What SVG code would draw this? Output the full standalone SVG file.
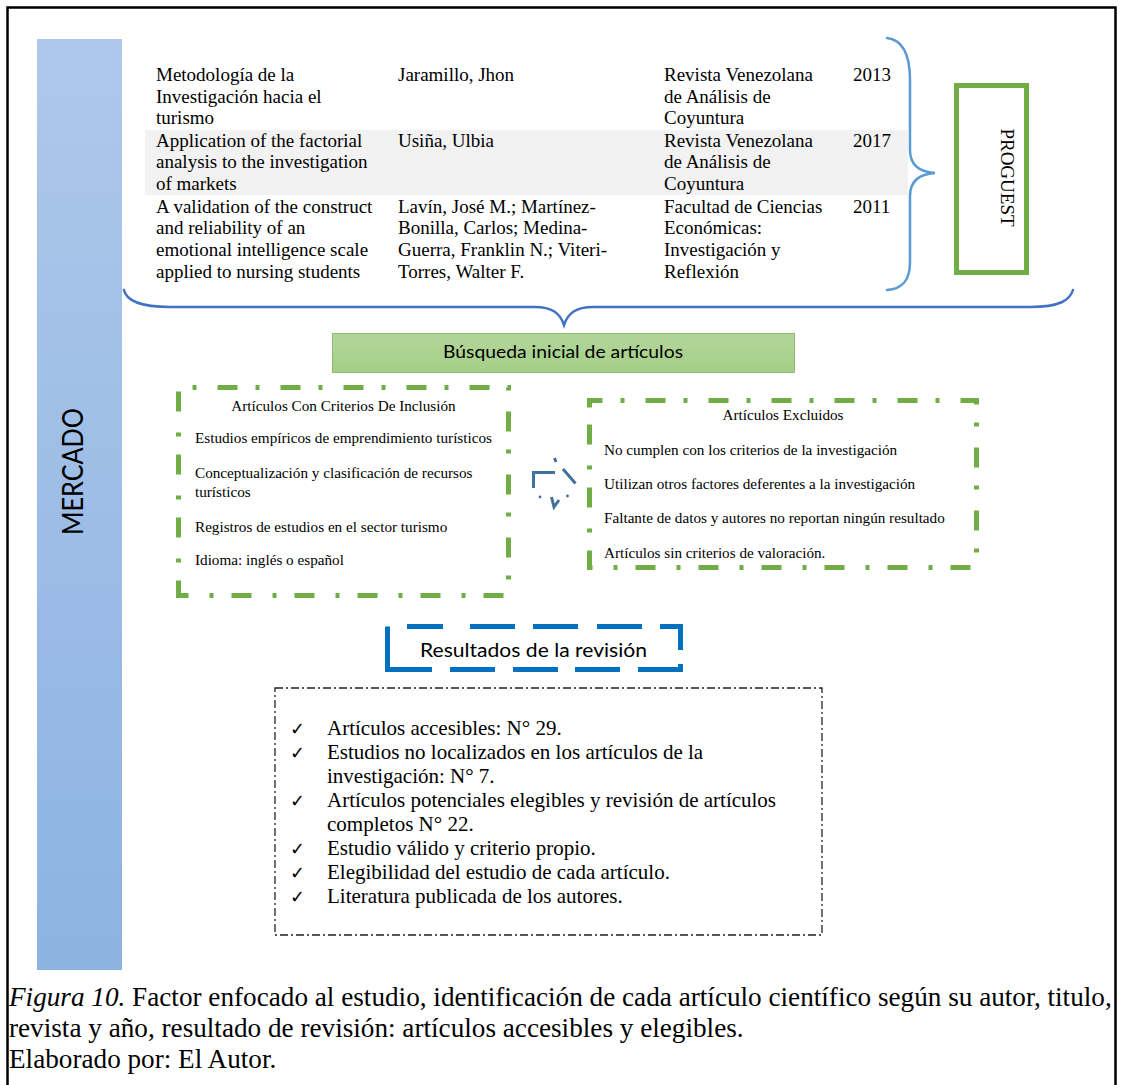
<svg xmlns="http://www.w3.org/2000/svg" width="1122" height="1085" viewBox="0 0 1122 1085">
<defs>
<linearGradient id="gBar" x1="0" y1="0" x2="0" y2="1"><stop offset="0" stop-color="#adc8ea"/><stop offset="1" stop-color="#8db3e2"/></linearGradient>
<linearGradient id="gGreen" x1="0" y1="0" x2="0" y2="1"><stop offset="0" stop-color="#b3d699"/><stop offset="1" stop-color="#a5ce89"/></linearGradient>
<style>
.serif{font-family:"Liberation Serif","Times New Roman",serif;fill:#000}
.sans{font-family:Lato,"Open Sans",sans-serif;fill:#000}
.tab{font-size:19px}
.crit{font-size:15.2px}
.chk{font-size:21px}
.mark{font-family:"DejaVu Sans",sans-serif;font-size:18px;fill:#000}
.cap{font-size:27.2px}
.gdash{fill:none;stroke:#70ad47;stroke-width:5;stroke-dasharray:20 18 4 21}
.blue{fill:none;stroke:#0070c0;stroke-width:5}
.brace{fill:none;stroke-width:2.5;stroke-linecap:round}
.ico{fill:none;stroke:#41719c;stroke-width:3}
</style>
</defs>
<rect width="1122" height="1085" fill="#fff"/>
<rect x="7.5" y="7.5" width="1108" height="1095" fill="none" stroke="#000" stroke-width="2.5"/>

<g id="mercado">
<rect x="37" y="39" width="85" height="931" fill="url(#gBar)"/>
<text class="sans" font-size="28" transform="translate(83,471.5) rotate(-90)" text-anchor="middle" textLength="127" lengthAdjust="spacingAndGlyphs">MERCADO</text>
</g>

<g id="tabla">
<rect x="145" y="130" width="763" height="65" fill="#f2f2f2"/>
<g class="serif tab">
<text x="156" y="81">Metodología de la</text>
<text x="156" y="103">Investigación hacia el</text>
<text x="156" y="124">turismo</text>
<text x="156" y="147">Application of the factorial</text>
<text x="156" y="168">analysis to the investigation</text>
<text x="156" y="190">of markets</text>
<text x="156" y="213">A validation of the construct</text>
<text x="156" y="234">and reliability of an</text>
<text x="156" y="256">emotional intelligence scale</text>
<text x="156" y="278">applied to nursing students</text>
<text x="398" y="81">Jaramillo, Jhon</text>
<text x="398" y="147">Usiña, Ulbia</text>
<text x="398" y="213">Lavín, José M.; Martínez-</text>
<text x="398" y="234">Bonilla, Carlos; Medina-</text>
<text x="398" y="256">Guerra, Franklin N.; Viteri-</text>
<text x="398" y="278">Torres, Walter F.</text>
<text x="664" y="81">Revista Venezolana</text>
<text x="664" y="103">de Análisis de</text>
<text x="664" y="124">Coyuntura</text>
<text x="664" y="147">Revista Venezolana</text>
<text x="664" y="168">de Análisis de</text>
<text x="664" y="190">Coyuntura</text>
<text x="664" y="213">Facultad de Ciencias</text>
<text x="664" y="234">Económicas:</text>
<text x="664" y="256">Investigación y</text>
<text x="664" y="278">Reflexión</text>
<text x="853" y="81">2013</text>
<text x="853" y="147">2017</text>
<text x="853" y="213">2011</text>
</g>
</g>

<g id="proguest">
<rect x="956.5" y="85.5" width="70" height="187" fill="none" stroke="#70ad47" stroke-width="5"/>
<text class="serif" font-size="19" transform="translate(1001,177.5) rotate(90)" text-anchor="middle">PROGUEST</text>
</g>

<g id="busqueda">
<rect x="332.5" y="333.5" width="462" height="39" fill="url(#gGreen)" stroke="#8cbd6c" stroke-width="1"/>
<text class="sans" font-size="17" x="563" y="358" text-anchor="middle" textLength="240" lengthAdjust="spacingAndGlyphs">Búsqueda inicial de artículos</text>
</g>

<g id="inclusion">
<path class="gdash" d="M183.5,595.5 H178.5 V387.5 H508.5 V595.5 Z"/>
<g class="serif crit">
<text x="343.5" y="411" text-anchor="middle">Artículos Con Criterios De Inclusión</text>
<text x="195" y="443">Estudios empíricos de emprendimiento turísticos</text>
<text x="195" y="478">Conceptualización y clasificación de recursos</text>
<text x="195" y="497">turísticos</text>
<text x="195" y="532">Registros de estudios en el sector turismo</text>
<text x="195" y="565">Idioma: inglés o español</text>
</g>
</g>

<g id="excluidos">
<path class="gdash" d="M589.5,407.5 V400.5 H976.5 V567.5 H589.5 Z"/>
<g class="serif crit">
<text x="783" y="420" text-anchor="middle">Artículos Excluidos</text>
<text x="604" y="455">No cumplen con los criterios de la investigación</text>
<text x="604" y="489">Utilizan otros factores deferentes a la investigación</text>
<text x="604" y="523">Faltante de datos y autores no reportan ningún resultado</text>
<text x="604" y="558">Artículos sin criterios de valoración.</text>
</g>
</g>

<g id="resultados">
<path class="blue" d="M387.5,626.5 V669.5 H432 M407,626.5 H443 M470,626.5 H515 M533,626.5 H578 M597,626.5 H642 M660,626.5 H680.5 V650 M450,669.5 H495 M513,669.5 H558 M575,669.5 H620 M638,669.5 H680.5 V664"/>
<text class="sans" font-size="18.5" x="533.5" y="657" text-anchor="middle" textLength="227" lengthAdjust="spacingAndGlyphs">Resultados de la revisión</text>
</g>

<g id="lista">
<rect x="275" y="688" width="547" height="247" fill="none" stroke="#222" stroke-width="1.3" stroke-dasharray="8 3 2 3"/>
<g class="mark">
<text x="290" y="735">✓</text>
<text x="290" y="759">✓</text>
<text x="290" y="807">✓</text>
<text x="290" y="855">✓</text>
<text x="290" y="879">✓</text>
<text x="290" y="903">✓</text>
</g>
<g class="serif chk">
<text x="327" y="735">Artículos accesibles: N° 29.</text>
<text x="327" y="759">Estudios no localizados en los artículos de la</text>
<text x="327" y="783">investigación: N° 7.</text>
<text x="327" y="807">Artículos potenciales elegibles y revisión de artículos</text>
<text x="327" y="831">completos N° 22.</text>
<text x="327" y="855">Estudio válido y criterio propio.</text>
<text x="327" y="879">Elegibilidad del estudio de cada artículo.</text>
<text x="327" y="903">Literatura publicada de los autores.</text>
</g>
</g>

<g id="connectors">
<path class="brace" stroke="#5b9bd5" d="M887,38 C903,40 910,55 910,80 L910,150 C910,165 920,172 935,173 C920,174 910,181 910,196 L910,262 C910,280 903,289 887,290"/>
<path class="brace" stroke="#4472c4" d="M124,290 C126,300 140,307 170,307 L535,307 C552,307 560,313 564,325 C568,313 576,307 593,307 L1030,307 C1060,307 1070,300 1073,290"/>
<g id="flecha">
<path class="ico" d="M533.5,488 V472.5 H555"/>
<path class="ico" stroke-width="2" d="M554.5,458 L556,462"/>
<path class="ico" d="M563,469 L575.5,483.5"/>
<path class="ico" stroke-width="2.5" d="M551.5,497 L554,507 L559,500"/>
<circle cx="540" cy="497" r="1.4" fill="#41719c"/>
<circle cx="567.5" cy="496" r="1.4" fill="#41719c"/>
</g>
</g>

<g id="leyenda" class="serif cap">
<text x="9" y="1006"><tspan font-style="italic">Figura 10.</tspan> Factor enfocado al estudio, identificación de cada artículo científico según su autor, titulo,</text>
<text x="9" y="1037">revista y año, resultado de revisión: artículos accesibles y elegibles.</text>
<text x="9" y="1068">Elaborado por: El Autor.</text>
</g>
</svg>
